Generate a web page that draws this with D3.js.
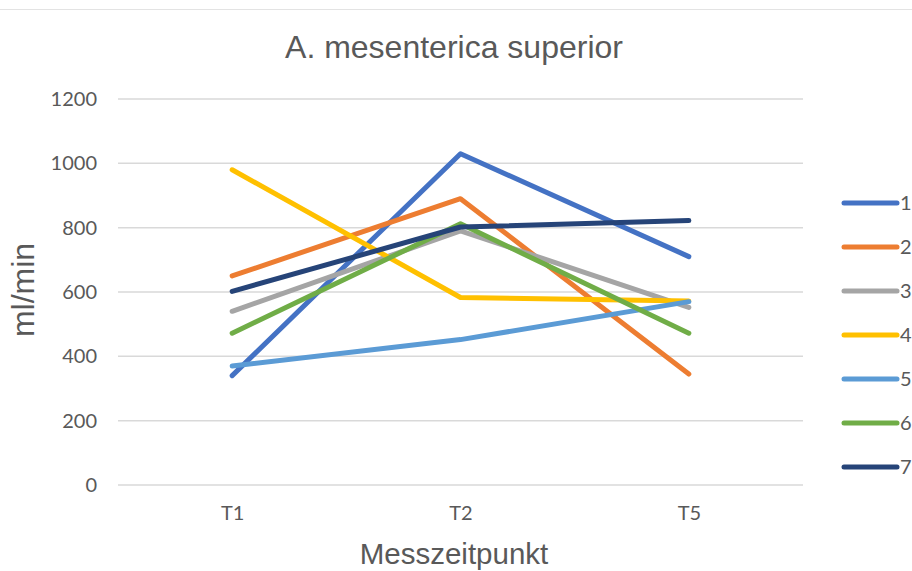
<!DOCTYPE html>
<html>
<head>
<meta charset="utf-8">
<script src="https://cdn.jsdelivr.net/npm/d3@7"></script>
<style>
  html, body { margin: 0; padding: 0; background: #fff; }
  svg { display: block; }
</style>
</head>
<body>
<svg id="chart" width="912" height="571"></svg>
<script>
// Measurement points and flow values (ml/min) per patient
const timepoints = ["T1", "T2", "T5"];
const seriesNames = ["1", "2", "3", "4", "5", "6", "7"];
const s1 = [340, 1030, 710];
const s2 = [650, 890, 345];
const s3 = [540, 790, 552];
const s4 = [980, 583, 572];
const s5 = [370, 452, 570];
const s6 = [472, 812, 472];
const s7 = [602, 802, 822];
const yTicks = [0, 200, 400, 600, 800, 1000, 1200];
const colors = ["#4472C4", "#ED7D31", "#A5A5A5", "#FFC000", "#5B9BD5", "#70AD47", "#264478"];

const seriesValues = [s1, s2, s3, s4, s5, s6, s7];

const svg = d3.select("#chart");
const W = 912, H = 571;
const plot = { left: 118, right: 803, top: 99, bottom: 485 };

// chart frame line at the top
svg.append("line")
  .attr("x1", 0).attr("x2", W).attr("y1", 9.5).attr("y2", 9.5)
  .attr("stroke", "#e3e3e3").attr("stroke-width", 1);

const x = d3.scalePoint().domain(timepoints)
  .range([plot.left, plot.right]).padding(0.5);
const y = d3.scaleLinear().domain([0, 1200]).range([plot.bottom, plot.top]);

// horizontal gridlines
svg.append("g").selectAll("line").data(yTicks).join("line")
  .attr("x1", plot.left).attr("x2", plot.right)
  .attr("y1", d => y(d)).attr("y2", d => y(d))
  .attr("stroke", "#d9d9d9").attr("stroke-width", 1.5);

// y axis labels
const yAxis = d3.axisLeft(y).tickValues(yTicks).tickFormat(d3.format("d"))
  .tickSize(0).tickPadding(0);
const gy = svg.append("g").attr("transform", `translate(${97},0)`).call(yAxis);
gy.select(".domain").remove();
gy.selectAll("text")
  .attr("font-family", "Lato, 'Open Sans', sans-serif")
  .attr("font-size", 20).attr("fill", "#595959");

// x axis labels
const xAxis = d3.axisBottom(x).tickSize(0).tickPadding(0);
const gx = svg.append("g").attr("transform", `translate(0,${506})`).call(xAxis);
gx.select(".domain").remove();
gx.selectAll("text")
  .attr("font-family", "Lato, 'Open Sans', sans-serif")
  .attr("font-size", 20).attr("fill", "#595959");

// data lines
const line = d3.line().x((d, i) => x(timepoints[i])).y(d => y(d));
svg.append("g").selectAll("path").data(seriesValues).join("path")
  .attr("d", d => line(d))
  .attr("fill", "none")
  .attr("stroke", (d, i) => colors[i])
  .attr("stroke-width", 5)
  .attr("stroke-linecap", "round")
  .attr("stroke-linejoin", "round");

// titles
svg.append("text")
  .attr("x", 454).attr("y", 58)
  .attr("text-anchor", "middle")
  .attr("font-family", "'Liberation Sans', Arial, sans-serif")
  .attr("font-size", 32).attr("fill", "#595959")
  .text("A. mesenterica superior");

svg.append("text")
  .attr("x", 454).attr("y", 564)
  .attr("text-anchor", "middle")
  .attr("font-family", "'Liberation Sans', Arial, sans-serif")
  .attr("font-size", 29.5).attr("fill", "#595959")
  .text("Messzeitpunkt");

svg.append("text")
  .attr("transform", `translate(${34},${290}) rotate(-90)`)
  .attr("text-anchor", "middle")
  .attr("font-family", "'Liberation Sans', Arial, sans-serif")
  .attr("font-size", 32).attr("fill", "#595959")
  .text("ml/min");

// legend
const legend = svg.append("g").selectAll("g").data(seriesNames).join("g")
  .attr("transform", (d, i) => `translate(0,${203 + i * 44})`);
legend.append("line")
  .attr("x1", 844).attr("x2", 897).attr("y1", 0).attr("y2", 0)
  .attr("stroke", (d, i) => colors[i])
  .attr("stroke-width", 5)
  .attr("stroke-linecap", "round");
legend.append("text")
  .attr("x", 900).attr("y", 7)
  .attr("font-family", "Lato, 'Open Sans', sans-serif")
  .attr("font-size", 20).attr("fill", "#595959")
  .text(d => d);
</script>
</body>
</html>
